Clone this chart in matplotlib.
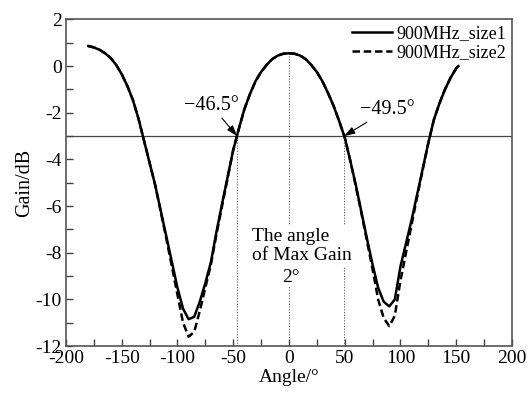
import numpy as np
import matplotlib.pyplot as plt
from matplotlib.ticker import MultipleLocator

plt.rcParams['font.family'] = ['Liberation Serif', 'DejaVu Serif']
plt.rcParams['axes.unicode_minus'] = False

# Gain pattern (angle in degrees, gain in dB)
angle = [-180, -175, -170, -165, -160, -155, -150, -145, -140, -135, -130,
         -125, -120, -115, -110, -105, -100, -95, -90, -85, -80, -75, -70,
         -65, -60, -55, -50, -45, -40, -35, -30, -25, -20, -15, -10, -5, 0,
         5, 10, 15, 20, 25, 30, 35, 40, 45, 50, 55, 60, 65, 70, 75, 80, 85,
         90, 95, 100, 105, 110, 115, 120, 125, 130, 135, 140, 145, 150, 152]
gain_size1 = [0.86, 0.80, 0.70, 0.55, 0.35, 0.05, -0.35, -0.85, -1.45, -2.25,
              -3.2, -4.15, -5.1, -6.2, -7.3, -8.4, -9.5, -10.4, -10.85, -10.75,
              -10.1, -9.3, -8.4, -7.1, -5.9, -4.75, -3.6, -2.7, -1.85, -1.2,
              -0.65, -0.25, 0.05, 0.3, 0.45, 0.53, 0.55, 0.53, 0.45, 0.3, 0.05,
              -0.25, -0.65, -1.15, -1.7, -2.35, -3.05, -4.05, -5.1, -6.25, -7.4,
              -8.5, -9.5, -10.1, -10.3, -10.0, -8.6, -7.6, -6.6, -5.5, -4.4,
              -3.3, -2.3, -1.6, -1.0, -0.5, -0.1, 0.0]
gain_size2 = [0.86, 0.80, 0.70, 0.55, 0.35, 0.05, -0.35, -0.85, -1.45, -2.25,
              -3.2, -4.15, -5.1, -6.25, -7.4, -8.6, -9.8, -11.0, -11.6, -11.4,
              -10.5, -9.5, -8.5, -7.2, -6.0, -4.8, -3.6, -2.7, -1.85, -1.2,
              -0.65, -0.25, 0.05, 0.3, 0.45, 0.53, 0.55, 0.53, 0.45, 0.3, 0.05,
              -0.25, -0.65, -1.15, -1.7, -2.35, -3.05, -4.05, -5.15, -6.3, -7.5,
              -8.7, -10.0, -10.8, -11.15, -10.7, -9.2, -8.0, -6.8, -5.6, -4.45,
              -3.3, -2.3, -1.6, -1.0, -0.5, -0.1, 0.0]

half_power = -3
left_3db, right_3db = -46.5, 49.5
peak_gain = 0.55

fig = plt.figure(figsize=(5.31, 4.03), dpi=100)
ax = fig.add_axes([0.1243, 0.1414, 0.8397, 0.8104])

ax.plot(angle, gain_size1, color='black', lw=1.8, label='900MHz_size1', zorder=4)
ax.plot(angle, gain_size2, color='black', lw=1.8, ls=(0, (3, 1.5)),
        label='900MHz_size2', zorder=4)

ax.axhline(half_power, color='#444444', lw=0.9, zorder=2)
ax.vlines([left_3db, right_3db], -12, half_power, color='#555555', lw=0.8,
          linestyles=(0, (1, 1.5)), zorder=1)
ax.vlines([0], -12, peak_gain, color='#555555', lw=0.8,
          linestyles=(0, (1, 1.5)), zorder=1)

ax.text(-33.5, -7.7, 'The angle\nof Max Gain', ha='left', va='center',
        fontsize=14, linespacing=1.15, zorder=3,
        bbox=dict(facecolor='white', edgecolor='none', pad=2))
ax.text(2, -9.05, '2°', ha='center', va='center', fontsize=14, zorder=3,
        bbox=dict(facecolor='white', edgecolor='none', pad=1))

arrow = dict(arrowstyle='-|>,head_length=0.45,head_width=0.15', color='black',
             lw=0.8, shrinkA=0, shrinkB=0)
ax.annotate('−46.5°', xy=(left_3db, half_power), xytext=(-69.5, -1.7),
            ha='center', va='center', fontsize=14.5, arrowprops=arrow)
ax.annotate('−49.5°', xy=(right_3db, half_power), xytext=(88, -1.88),
            ha='center', va='center', fontsize=14.5, arrowprops=arrow)

ax.set_xlim(-200, 200)
ax.set_ylim(-12, 2)
ax.xaxis.set_major_locator(MultipleLocator(50))
ax.xaxis.set_minor_locator(MultipleLocator(25))
ax.yaxis.set_major_locator(MultipleLocator(2))
ax.yaxis.set_minor_locator(MultipleLocator(1))
ax.tick_params(which='both', direction='in', top=False, right=False,
               labelsize=14, color='#444444')
ax.tick_params(which='major', length=5, width=1, pad=3)
ax.tick_params(which='minor', length=5, width=1)
for s in ax.spines.values():
    s.set_color('#555555')
    s.set_linewidth(1.2)

ax.set_xlabel('Angle/°', fontsize=14, labelpad=1)
ax.set_ylabel('Gain/dB', fontsize=14.5, labelpad=1)

ax.legend(loc='upper right', frameon=False, fontsize=13, handlelength=2.2,
          handletextpad=0.25, labelspacing=0.15, borderaxespad=0.1,
          borderpad=0.2)

fig.savefig('out.png', dpi=100)
